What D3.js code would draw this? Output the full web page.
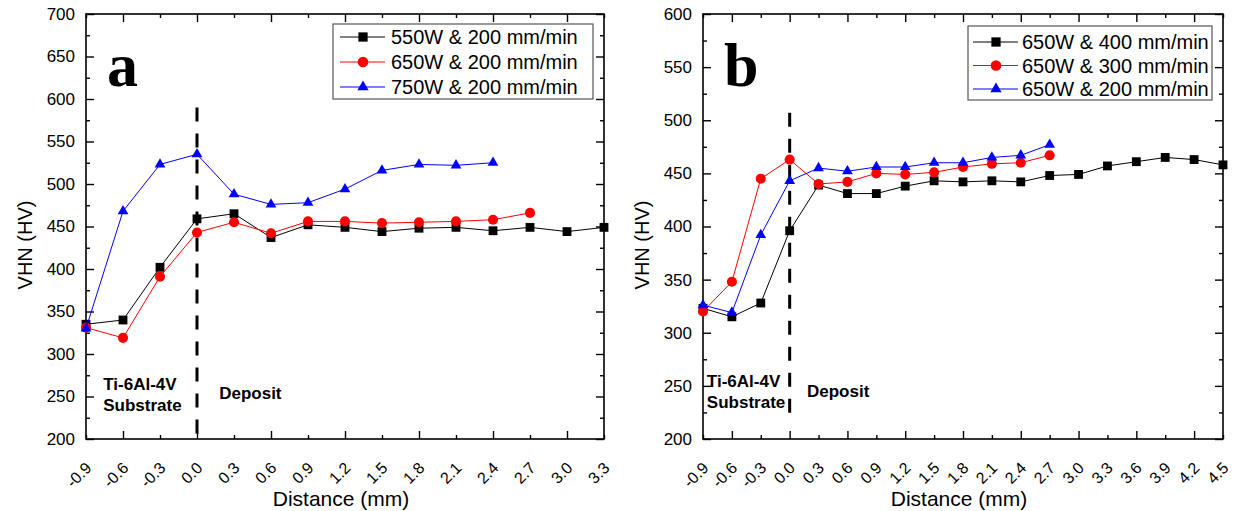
<!DOCTYPE html>
<html>
<head>
<meta charset="utf-8">
<script src="https://cdn.jsdelivr.net/npm/d3@7"></script>
<style>
body { margin: 0; background: #fff; }
text { font-family: "Liberation Sans", Arial, sans-serif; fill: #000; }
</style>
</head>
<body>
<script>
var width = 1233,
	height = 511;

// Panel a : laser power varied at 200 mm/min
var distA = [-0.9, -0.6, -0.3, 0.0, 0.3, 0.6, 0.9, 1.2, 1.5, 1.8, 2.1, 2.4, 2.7, 3.0, 3.3];
var hv550 = [335, 340, 402, 459, 465, 437, 452, 449, 444, 448, 449, 445, 449, 444, 449];
var hv650 = [331, 319, 391, 443, 455, 442, 456, 456, 454, 455, 456, 458, 466];
var hv750 = [330, 468, 523, 535, 488, 476, 478, 494, 516, 523, 522, 525];
var legendA = ["550W & 200 mm/min", "650W & 200 mm/min", "750W & 200 mm/min"];
var xTicksA = [-0.9, -0.6, -0.3, 0.0, 0.3, 0.6, 0.9, 1.2, 1.5, 1.8, 2.1, 2.4, 2.7, 3.0, 3.3];
var yTicksA = [200, 250, 300, 350, 400, 450, 500, 550, 600, 650, 700];

// Panel b : scan speed varied at 650 W
var distB = [-0.9, -0.6, -0.3, 0.0, 0.3, 0.6, 0.9, 1.2, 1.5, 1.8, 2.1, 2.4, 2.7, 3.0, 3.3, 3.6, 3.9, 4.2, 4.5];
var hv400 = [323, 315, 328, 396, 439, 431, 431, 438, 443, 442, 443, 442, 448, 449, 457, 461, 465, 463, 458];
var hv300 = [320, 348, 445, 463, 440, 442, 450, 449, 451, 456, 459, 460, 467];
var hv200 = [326, 319, 392, 443, 455, 452, 456, 456, 460, 460, 465, 467, 477];
var legendB = ["650W & 400 mm/min", "650W & 300 mm/min", "650W & 200 mm/min"];
var xTicksB = [-0.9, -0.6, -0.3, 0.0, 0.3, 0.6, 0.9, 1.2, 1.5, 1.8, 2.1, 2.4, 2.7, 3.0, 3.3, 3.6, 3.9, 4.2, 4.5];
var yTicksB = [200, 250, 300, 350, 400, 450, 500, 550, 600];

var colors = ["#000000", "#ff0000", "#0000ff"];
var shapes = [d3.symbolSquare, d3.symbolCircle, d3.symbolTriangle];
var sizes = [78, 80, 50];

var svg = d3.select("body").append("svg")
	.attr("width", width)
	.attr("height", height);

svg.append("rect")
	.attr("width", width)
	.attr("height", height)
	.attr("fill", "#fff");

drawPanel({
	letter: "a",
	left: 86, right: 604, top: 14, bottom: 439,
	xDomain: [-0.9, 3.3], yDomain: [200, 700],
	xTicks: xTicksA, yTicks: yTicksA,
	series: [[distA, hv550], [distA, hv650], [distA, hv750]],
	names: legendA,
	dash: [200, 590],
	legend: {x: 333, y: 24, w: 260, h: 75, top: 13, row: 25, mark: 30, text: 58},
	subX: -0.76, subY: 258, depX: 0.18, depY: 247
});

drawPanel({
	letter: "b",
	left: 703, right: 1223, top: 14, bottom: 439,
	xDomain: [-0.9, 4.5], yDomain: [200, 600],
	xTicks: xTicksB, yTicks: yTicksB,
	series: [[distB, hv400], [distB, hv300], [distB, hv200]],
	names: legendB,
	dash: [220, 507],
	legend: {x: 968, y: 26, w: 244, h: 74, top: 16, row: 23.5, mark: 28, text: 54},
	subX: -0.86, subY: 249, depX: 0.18, depY: 240
});

function drawPanel(p) {
	var x = d3.scaleLinear().domain(p.xDomain).range([p.left, p.right]);
	var y = d3.scaleLinear().domain(p.yDomain).range([p.bottom, p.top]);
	var g = svg.append("g");

	var xMajor = function(d) { return Math.round(d * 10) % 6 === 0; };
	var yMinor = p.yTicks.slice(0, -1).map(function(d) { return d + 25; });

	// bottom axis with rotated labels
	var bx = g.append("g")
		.attr("transform", "translate(0," + p.bottom + ")")
		.call(d3.axisBottom(x).tickValues(p.xTicks).tickSize(-8)
			.tickFormat(function(d) { return d.toFixed(1); }));
	bx.selectAll(".tick line").attr("y2", function(d) { return xMajor(d) ? -8 : -4; });
	bx.selectAll(".tick text")
		.attr("x", 0).attr("y", 0).attr("dy", "0.35em")
		.attr("text-anchor", "end")
		.attr("transform", "translate(2,26) rotate(-45)")
		.style("font-size", "16px");

	// top axis
	var tx = g.append("g")
		.attr("transform", "translate(0," + p.top + ")")
		.call(d3.axisTop(x).tickValues(p.xTicks).tickSize(-8).tickFormat(""));
	tx.selectAll(".tick line").attr("y2", function(d) { return xMajor(d) ? 8 : 4; });

	// left axis, major + minor
	var ly = g.append("g")
		.attr("transform", "translate(" + p.left + ",0)")
		.call(d3.axisLeft(y).tickValues(p.yTicks).tickSize(-8).tickPadding(11));
	ly.selectAll(".tick text").style("font-size", "17px");
	g.append("g")
		.attr("transform", "translate(" + p.left + ",0)")
		.call(d3.axisLeft(y).tickValues(yMinor).tickSize(-4).tickFormat(""));

	// right axis
	g.append("g")
		.attr("transform", "translate(" + p.right + ",0)")
		.call(d3.axisRight(y).tickValues(p.yTicks).tickSize(-8).tickFormat(""));
	g.append("g")
		.attr("transform", "translate(" + p.right + ",0)")
		.call(d3.axisRight(y).tickValues(yMinor).tickSize(-4).tickFormat(""));

	g.selectAll(".domain").remove();
	g.selectAll(".tick line").attr("stroke", "#000").attr("stroke-width", 1.4);

	// frame
	g.append("rect")
		.attr("x", p.left).attr("y", p.top)
		.attr("width", p.right - p.left).attr("height", p.bottom - p.top)
		.attr("fill", "none").attr("stroke", "#000").attr("stroke-width", 1.6);

	// boundary between substrate and deposit
	g.append("line")
		.attr("x1", x(0)).attr("x2", x(0))
		.attr("y1", y(p.dash[1])).attr("y2", y(p.dash[0]))
		.attr("stroke", "#000")
		.attr("stroke-width", 3)
		.attr("stroke-dasharray", "14,12");

	var line = d3.line()
		.x(function(d) { return x(d[0]); })
		.y(function(d) { return y(d[1]); });

	p.series.forEach(function(s, i) {
		var pts = d3.zip(s[0], s[1]);
		g.append("path")
			.datum(pts)
			.attr("d", line)
			.attr("fill", "none")
			.attr("stroke", colors[i])
			.attr("stroke-width", 1);
		g.selectAll(".pt" + i)
			.data(pts)
			.enter().append("path")
			.attr("class", "pt" + i)
			.attr("d", d3.symbol().type(shapes[i]).size(sizes[i]))
			.attr("transform", function(d) { return "translate(" + x(d[0]) + "," + y(d[1]) + ")"; })
			.attr("fill", colors[i]);
	});

	// legend
	var L = p.legend;
	var lg = g.append("g");
	lg.append("rect")
		.attr("x", L.x).attr("y", L.y).attr("width", L.w).attr("height", L.h)
		.attr("fill", "#fff").attr("stroke", "#555").attr("stroke-width", 1.2);
	p.names.forEach(function(name, i) {
		var ry = L.y + L.top + i * L.row;
		lg.append("line")
			.attr("x1", L.x + L.mark - 23).attr("x2", L.x + L.mark + 22)
			.attr("y1", ry).attr("y2", ry)
			.attr("stroke", colors[i]).attr("stroke-width", 1);
		lg.append("path")
			.attr("d", d3.symbol().type(shapes[i]).size(sizes[i] * 1.1))
			.attr("transform", "translate(" + (L.x + L.mark) + "," + ry + ")")
			.attr("fill", colors[i]);
		lg.append("text")
			.attr("x", L.x + L.text).attr("y", ry).attr("dy", "0.36em")
			.style("font-size", "20px")
			.text(name);
	});

	// panel letter
	g.append("text")
		.attr("x", x(p.xDomain[0]) + 21)
		.attr("y", p.top + 72)
		.style("font-family", "'Liberation Serif', 'Times New Roman', serif")
		.style("font-weight", "bold")
		.style("font-size", "62px")
		.text(p.letter);

	// region labels
	var sub = g.append("text")
		.attr("x", x(p.subX)).attr("y", y(p.subY))
		.style("font-size", "17px").style("font-weight", "bold");
	sub.append("tspan").attr("x", x(p.subX)).text("Ti-6Al-4V");
	sub.append("tspan").attr("x", x(p.subX)).attr("dy", 21).text("Substrate");
	g.append("text")
		.attr("x", x(p.depX)).attr("y", y(p.depY))
		.style("font-size", "17px").style("font-weight", "bold")
		.text("Deposit");

	// axis titles
	g.append("text")
		.attr("x", (p.left + p.right) / 2 - 4)
		.attr("y", 506)
		.attr("text-anchor", "middle")
		.style("font-size", "21px")
		.text("Distance (mm)");
	g.append("text")
		.attr("transform", "translate(" + (p.left - 54) + ",245) rotate(-90)")
		.attr("text-anchor", "middle")
		.style("font-size", "20px")
		.text("VHN (HV)");
}
</script>
</body>
</html>
